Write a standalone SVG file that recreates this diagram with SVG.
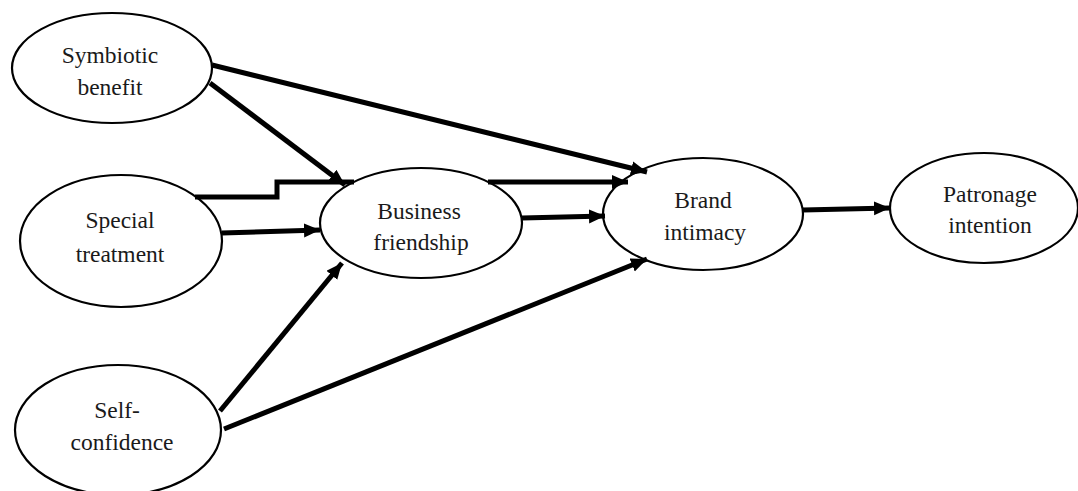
<svg xmlns="http://www.w3.org/2000/svg" width="1078" height="491" viewBox="0 0 1078 491">
<style>
.node ellipse { fill: #ffffff; stroke: #000000; stroke-width: 2.2; }
.node text { font-family: 'Liberation Serif', 'Times New Roman', Times, 'DejaVu Serif', serif; font-size: 23.5px; fill: #1a1a1a; text-anchor: middle; }
.edge { fill: none; stroke: #000000; stroke-width: 5; marker-end: url(#arr); }
</style>
<defs>
<marker id="arr" markerUnits="userSpaceOnUse" markerWidth="18" markerHeight="16" refX="16" refY="7" orient="auto">
<path d="M0,0 L16,7 L0,14 Z" fill="#000000"/>
</marker>
</defs>
<rect width="1078" height="491" fill="#ffffff"/>
<g id="n-symbiotic" class="node">
<ellipse cx="112" cy="68" rx="100" ry="55"/>
<text x="110" y="63">Symbiotic</text>
<text x="110" y="95">benefit</text>
</g>
<g id="n-special" class="node">
<ellipse cx="121" cy="241" rx="101" ry="66"/>
<text x="120" y="228">Special</text>
<text x="120" y="262">treatment</text>
</g>
<g id="n-self" class="node">
<ellipse cx="118" cy="430" rx="103" ry="65"/>
<text x="117" y="418">Self-</text>
<text x="122" y="450">confidence</text>
</g>
<g id="n-business" class="node">
<ellipse cx="421" cy="223" rx="101" ry="55"/>
<text x="419" y="219">Business</text>
<text x="421" y="250">friendship</text>
</g>
<g id="n-brand" class="node">
<ellipse cx="703" cy="214" rx="100" ry="56"/>
<text x="703" y="208">Brand</text>
<text x="705" y="240">intimacy</text>
</g>
<g id="n-patronage" class="node">
<ellipse cx="984" cy="208" rx="94" ry="55"/>
<text x="990" y="202">Patronage</text>
<text x="990" y="233">intention</text>
</g>
<g id="connectors">
<path class="edge" d="M212,65 L647,172"/>
<path class="edge" d="M210,83 L345,185"/>
<path class="edge" d="M195,197 H277 V182 H354 M488,182 H628"/>
<path class="edge" d="M222,233 L320,230"/>
<path class="edge" d="M522,218 L605,216"/>
<path class="edge" d="M220,411 L342,263"/>
<path class="edge" d="M224,429 L647,259"/>
<path class="edge" d="M803,210 L890,208"/>
</g>
</svg>
